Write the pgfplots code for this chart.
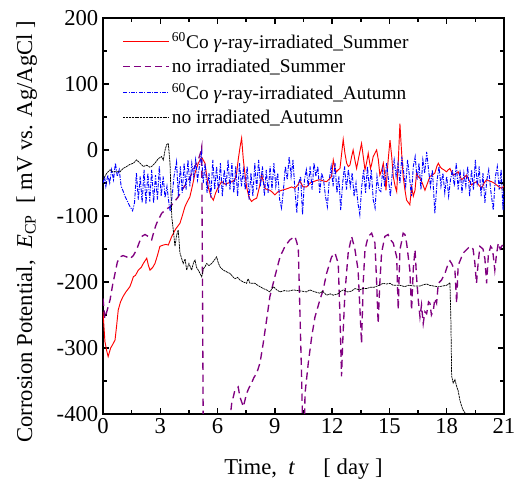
\documentclass[border=0pt]{standalone}
\usepackage{fontspec}
\setmainfont{Liberation Serif}
\usepackage{pgfplots}
\pgfplotsset{compat=1.18}
\definecolor{myred}{RGB}{255,0,0}
\definecolor{mypurple}{RGB}{128,0,128}
\definecolor{myblue}{RGB}{0,0,255}
\begin{document}
\begin{tikzpicture}
\begin{axis}[
  at={(0,0)}, anchor=south west,
  scale only axis, width=300.75pt, height=297pt,
  xmin=0, xmax=21, ymin=-400, ymax=200,
  xtick={0,3,...,21}, ytick={-400,-300,...,200},
  xticklabels={0,3,6,9,12,15,18,21},
  yticklabels={-400,-300,-200,-100,0,100,200},
  minor x tick num=1, minor y tick num=1,
  tick align=inside, xtick pos=both, ytick pos=both,
  xticklabel pos=lower, yticklabel pos=left,
  major tick length=4.5pt, minor tick length=3pt,
  every tick/.style={black, line width=1.1pt},
  axis line style={line width=1.6pt},
  tick label style={font=\fontsize{17}{20}\selectfont},
  label style={font=\fontsize{17}{20}\selectfont},
  xlabel={Time,\ \ \textit{t}\quad\ [ day ]},
  ylabel={Corrosion Potential,\ \ \textit{E}\textsubscript{CP}\ \ [ mV vs. Ag/AgCl ]},
  ylabel style={at={(axis description cs:-0.19,0.46)}, anchor=center},
  xlabel style={at={(axis description cs:0.5,-0.1)}, anchor=north},
  legend style={at={(0.045,0.975)}, anchor=north west, draw=none, fill=none,
    font=\fontsize{14.5}{17.5}\selectfont, row sep=2.6pt, inner sep=1pt},
  legend cell align=left,
  clip=true,
]
% 60Co irradiated, Summer
\addplot[color=myred, line width=0.7pt,
  legend image code/.code={\draw[draw=myred, line width=0.75pt] (0pt,0pt) -- (34pt,0pt);}] coordinates {
(0,-245) (0.1,-290) (0.2,-305) (0.27,-313) (0.4,-300) (0.5,-295) (0.63,-288) (0.7,-270) (0.8,-242) (0.92,-230) (1.05,-222) (1.2,-215) (1.41,-207) (1.5,-200) (1.59,-192) (1.7,-190) (1.85,-182) (2.0,-178) (2.11,-172) (2.2,-168) (2.29,-164) (2.38,-175) (2.46,-182) (2.6,-178) (2.72,-172) (2.85,-160) (2.98,-146) (3.16,-144) (3.3,-143) (3.42,-144) (3.6,-131) (3.8,-120) (4.03,-111) (4.15,-100) (4.29,-86) (4.42,-78) (4.55,-71) (4.7,-52) (4.82,-35) (4.99,-20) (5.08,-15) (5.17,-11) (5.34,-20) (5.51,-56) (5.65,-70) (5.78,-76) (5.9,-65) (6.04,-56) (6.21,-48) (6.4,-52) (6.56,-50) (6.75,-48) (6.91,-45) (7.0,-35) (7.08,-15) (7.18,5) (7.26,18) (7.35,-15) (7.45,-40) (7.52,-56) (7.65,-72) (7.78,-78) (7.9,-75) (8.05,-73) (8.2,-55) (8.31,-38) (8.4,-48) (8.48,-58) (8.6,-60) (8.74,-61) (8.87,-64) (9.0,-68) (9.18,-63) (9.36,-61) (9.5,-60) (9.7,-58) (9.88,-56) (10.05,-58) (10.2,-53) (10.31,-47) (10.48,-56) (10.66,-56) (10.85,-50) (11.01,-48) (11.2,-46) (11.36,-45) (11.55,-47) (11.71,-48) (11.85,-44) (11.97,-40) (12.06,-15) (12.15,-28) (12.23,-33) (12.32,-30) (12.41,-28) (12.5,-5) (12.58,16) (12.67,-5) (12.76,-20) (12.85,-25) (12.93,-23) (13.02,-10) (13.1,0) (13.19,-15) (13.28,-28) (13.4,-10) (13.54,10) (13.63,-10) (13.72,-30) (13.8,-20) (13.89,-5) (14.01,-28) (14.08,-20) (14.15,-10) (14.24,-5) (14.33,0) (14.42,-15) (14.5,-38) (14.6,-30) (14.68,-20) (14.75,-35) (14.82,-61) (14.92,-20) (15.03,15) (15.12,-10) (15.2,-40) (15.3,-55) (15.38,-63) (15.46,-20) (15.55,40) (15.63,0) (15.72,-40) (15.81,-60) (15.9,-76) (16.0,-80) (16.07,-83) (16.16,-56) (16.25,-70) (16.34,-61) (16.42,-35) (16.5,-40) (16.6,-43) (16.72,-50) (16.86,-61) (17.0,-50) (17.12,-40) (17.25,-38) (17.38,-35) (17.48,-25) (17.56,-20) (17.65,-25) (17.73,-28) (17.85,-30) (17.99,-33) (18.08,-30) (18.17,-28) (18.26,-34) (18.34,-38) (18.47,-36) (18.6,-33) (18.7,-40) (18.78,-45) (18.9,-42) (19.04,-38) (19.17,-46) (19.3,-53) (19.43,-50) (19.56,-48) (19.7,-54) (19.83,-58) (19.96,-50) (20.09,-45) (20.22,-47) (20.35,-48) (20.48,-50) (20.61,-53) (20.74,-56) (20.87,-58) (21,-55)
};
\addlegendentry{\textsuperscript{60}Co \textit{γ}-ray-irradiated\_Summer}
% no irradiated, Summer
\addplot[color=mypurple, line width=1pt, dash pattern=on 5.5pt off 3.5pt,
  legend image code/.code={\draw[draw=mypurple, line width=1pt, dash pattern=on 5pt off 3pt] (0pt,0pt) -- (34pt,0pt);}] coordinates {
(0,-225) (0.1,-255) (0.2,-245) (0.37,-227) (0.5,-205) (0.63,-187) (0.75,-170) (0.89,-162) (1.05,-160) (1.24,-162) (1.4,-165) (1.59,-160) (1.76,-151) (1.9,-140) (2.03,-131) (2.2,-128) (2.37,-131) (2.55,-136) (2.7,-120) (2.81,-111) (3.07,-96) (3.3,-90) (3.51,-86) (3.7,-80) (3.94,-71) (4.15,-60) (4.38,-50) (4.55,-42) (4.73,-30) (4.99,-15) (5.1,-5) (5.17,5) (5.21,-200) (5.25,-430) (6.56,-430) (6.74,-384) (6.9,-365) (7.08,-359) (7.17,-374) (7.35,-389) (7.52,-369) (7.65,-360) (7.78,-353) (7.9,-345) (8.05,-338) (8.22,-323) (8.39,-293) (8.57,-257) (8.74,-222) (9.0,-192) (9.27,-162) (9.53,-146) (9.79,-136) (10.05,-131) (10.15,-140) (10.23,-151) (10.31,-242) (10.4,-343) (10.46,-430) (10.54,-430) (10.58,-369) (10.75,-323) (10.93,-283) (11.1,-253) (11.36,-227) (11.53,-212) (11.71,-187) (11.97,-162) (12.15,-156) (12.32,-172) (12.42,-260) (12.49,-343) (12.57,-280) (12.67,-217) (12.84,-156) (13.02,-131) (13.19,-150) (13.36,-182) (13.54,-293) (13.63,-200) (13.72,-151) (13.89,-131) (14.07,-126) (14.24,-141) (14.33,-200) (14.41,-263) (14.5,-200) (14.59,-156) (14.76,-131) (14.93,-128) (15.03,-135) (15.2,-141) (15.38,-162) (15.46,-242) (15.55,-151) (15.63,-140) (15.72,-126) (15.81,-128) (15.9,-141) (16.07,-182) (16.16,-243) (16.25,-180) (16.34,-151) (16.42,-192) (16.51,-227) (16.6,-253) (16.68,-235) (16.77,-263) (16.86,-245) (16.95,-248) (17.05,-230) (17.12,-232) (17.2,-250) (17.3,-243) (17.38,-225) (17.47,-232) (17.56,-202) (17.73,-197) (17.91,-187) (18.08,-172) (18.17,-168) (18.26,-172) (18.35,-178) (18.43,-182) (18.52,-232) (18.6,-175) (18.78,-162) (18.9,-155) (19.04,-151) (19.21,-146) (19.38,-150) (19.47,-170) (19.56,-202) (19.65,-170) (19.74,-146) (19.9,-150) (20.0,-165) (20.09,-202) (20.18,-160) (20.3,-146) (20.4,-150) (20.52,-182) (20.6,-160) (20.7,-141) (20.8,-150) (20.9,-145) (21,-141)
};
\addlegendentry{no irradiated\_Summer}
% 60Co irradiated, Autumn
\addplot[color=myblue, line width=0.7pt, dash pattern=on 3pt off 1pt on 0.8pt off 1pt,
  legend image code/.code={\draw[draw=myblue, line width=0.75pt, dash pattern=on 3pt off 1pt on 0.8pt off 1pt] (0pt,0pt) -- (34pt,0pt);}] coordinates {
(0.00,-50) (0.08,-40) (0.15,-55) (0.25,-38) (0.35,-50) (0.45,-30) (0.55,-45) (0.65,-20) (0.75,-40) (0.85,-30) (0.95,-55) (1.05,-62) (1.15,-70) (1.25,-76) (1.4,-85) (1.55,-92) (1.65,-80) (1.75,-35) (1.85,-75) (1.95,-40) (2.05,-80) (2.15,-30) (2.25,-82) (2.35,-35) (2.45,-78) (2.55,-30) (2.65,-80) (2.75,-38) (2.85,-75) (2.95,-25) (3.05,-70) (3.15,-40) (3.25,-72) (3.35,-55) (3.45,-80) (3.52,-93) (3.62,-70) (3.72,-40) (3.85,-18) (3.95,-70) (4.05,-25) (4.15,-65) (4.25,-20) (4.35,-60) (4.45,-15) (4.55,-55) (4.65,-20) (4.75,-40) (4.85,-15) (4.95,-45) (5.05,-25) (5.15,-5) (5.25,-50) (5.35,-20) (5.45,-65) (5.55,-35) (5.65,-72) (5.75,-15) (5.85,-60) (5.95,-25) (6.05,-65) (6.15,-20) (6.25,-70) (6.35,-30) (6.45,-55) (6.55,-15) (6.65,-60) (6.75,-20) (6.85,-65) (6.95,-25) (7.05,-70) (7.15,-20) (7.25,-55) (7.35,-30) (7.45,-60) (7.55,-25) (7.65,-75) (7.75,-35) (7.85,-70) (7.95,-20) (8.05,-60) (8.15,-15) (8.25,-55) (8.35,-25) (8.45,-70) (8.55,-30) (8.65,-65) (8.75,-25) (8.85,-60) (8.95,-20) (9.05,-55) (9.15,-35) (9.25,-75) (9.35,-88) (9.45,-60) (9.55,-25) (9.65,-45) (9.75,-10) (9.85,-40) (9.95,-15) (10.05,-60) (10.15,-95) (10.25,-50) (10.35,-40) (10.45,-98) (10.55,-45) (10.65,-30) (10.75,-55) (10.85,-25) (10.95,-60) (11.05,-20) (11.15,-40) (11.25,-25) (11.35,-65) (11.45,-35) (11.55,-45) (11.65,-70) (11.75,-86) (11.85,-45) (11.95,-25) (12.05,-55) (12.15,-20) (12.25,-65) (12.35,-40) (12.45,-91) (12.55,-50) (12.65,-25) (12.75,-60) (12.85,-30) (12.95,-55) (13.05,-35) (13.15,-70) (13.25,-50) (13.35,-80) (13.45,-98) (13.55,-55) (13.65,-30) (13.75,-65) (13.85,-25) (13.95,-60) (14.05,-30) (14.15,-75) (14.25,-88) (14.35,-40) (14.45,-60) (14.55,-63) (14.65,-30) (14.75,-55) (14.85,-20) (14.95,-45) (15.05,-70) (15.15,-35) (15.25,-15) (15.35,-40) (15.45,-20) (15.55,-50) (15.65,-10) (15.75,-35) (15.85,-55) (15.95,-15) (16.05,-40) (16.15,-70) (16.25,-25) (16.35,-10) (16.45,-45) (16.55,-20) (16.65,-60) (16.75,-15) (16.85,-35) (16.95,-3) (17.05,-30) (17.15,-55) (17.25,-30) (17.38,-96) (17.5,-45) (17.6,-25) (17.7,-55) (17.8,-35) (17.9,-65) (18.0,-40) (18.1,-70) (18.2,-45) (18.3,-30) (18.4,-55) (18.5,-20) (18.6,-60) (18.7,-30) (18.8,-65) (18.9,-35) (19.0,-55) (19.1,-25) (19.2,-70) (19.3,-30) (19.4,-60) (19.5,-15) (19.6,-55) (19.7,-25) (19.8,-70) (19.9,-35) (20.0,-80) (20.1,-45) (20.2,-30) (20.3,-60) (20.44,-91) (20.55,-40) (20.65,-25) (20.75,-60) (20.85,-30) (20.95,-91) (21,-60)
};
\addlegendentry{\textsuperscript{60}Co \textit{γ}-ray-irradiated\_Autumn}
% no irradiated, Autumn
\addplot[color=black, line width=0.55pt, dash pattern=on 1.6pt off 0.5pt,
  legend image code/.code={\draw[draw=black, line width=0.55pt, dash pattern=on 1.6pt off 0.5pt] (0pt,0pt) -- (34pt,0pt);}] coordinates {
(0,-45) (0.1,-40) (0.2,-35) (0.37,-30) (0.5,-33) (0.7,-33) (0.89,-33) (1.05,-28) (1.24,-25) (1.4,-22) (1.59,-20) (1.76,-15) (1.94,-20) (2.11,-25) (2.29,-23) (2.45,-26) (2.55,-25) (2.72,-20) (2.9,-13) (3.07,-10) (3.16,-15) (3.25,0) (3.33,8) (3.42,10) (3.51,-20) (3.6,-101) (3.68,-121) (3.77,-146) (3.85,-130) (3.94,-121) (4.03,-156) (4.2,-172) (4.3,-165) (4.38,-182) (4.5,-172) (4.64,-182) (4.75,-170) (4.82,-167) (4.9,-178) (4.99,-182) (5.08,-187) (5.17,-192) (5.26,-180) (5.34,-177) (5.43,-172) (5.55,-175) (5.69,-172) (5.8,-168) (5.95,-162) (6.05,-172) (6.15,-178) (6.3,-182) (6.5,-185) (6.65,-187) (6.8,-192) (6.91,-195) (7.05,-193) (7.17,-197) (7.35,-200) (7.52,-202) (7.6,-195) (7.7,-202) (7.96,-202) (8.1,-205) (8.22,-207) (8.4,-210) (8.57,-212) (8.74,-215) (8.92,-207) (9.1,-212) (9.27,-215) (9.5,-213) (9.7,-214) (9.97,-212) (10.2,-213) (10.45,-214) (10.66,-215) (10.83,-212) (11.1,-215) (11.36,-217) (11.5,-214) (11.71,-220) (11.9,-218) (12.06,-220) (12.3,-218) (12.45,-214) (12.58,-212) (12.8,-215) (13.0,-214) (13.2,-210) (13.45,-212) (13.6,-210) (13.8,-210) (14.0,-208) (14.2,-208) (14.45,-205) (14.67,-202) (14.85,-203) (15.03,-202) (15.2,-205) (15.37,-205) (15.55,-205) (15.8,-207) (16.0,-205) (16.3,-206) (16.6,-206) (16.8,-204) (16.95,-203) (17.1,-205) (17.3,-206) (17.5,-207) (17.64,-207) (17.8,-206) (17.99,-205) (18.1,-203) (18.17,-201) (18.22,-260) (18.26,-343) (18.34,-353) (18.43,-348) (18.52,-358) (18.6,-365) (18.69,-379) (18.78,-388) (18.86,-394) (18.95,-398) (19.04,-402)
};
\addlegendentry{no irradiated\_Autumn}
\end{axis}
\pgfresetboundingbox
\path (-77.25pt,-48.75pt) rectangle (312pt,310.5pt);
\end{tikzpicture}
\end{document}
